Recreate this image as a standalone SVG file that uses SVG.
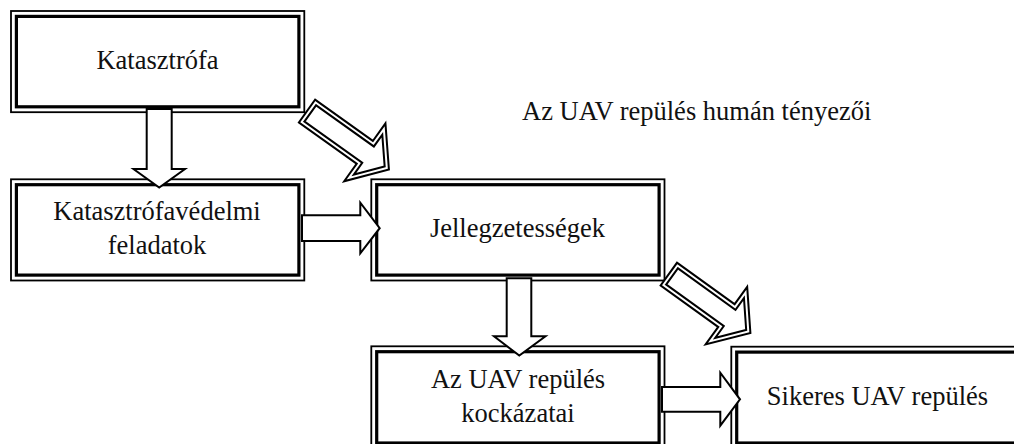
<svg xmlns="http://www.w3.org/2000/svg" width="1014" height="444" viewBox="0 0 1014 444">
<style>
.o{fill:#fff;stroke:#000;stroke-width:1.8}
.i{fill:none;stroke:#000;stroke-width:3.2}
.t{font-family:"Liberation Serif","Times New Roman",serif;font-size:26.5px;fill:#111;text-anchor:middle}
.a{fill:#fff;stroke:#000;stroke-width:2;stroke-linejoin:miter}
.d1{fill:#fff;stroke:#000;stroke-width:6;stroke-linejoin:miter}
.d2{fill:none;stroke:#fff;stroke-width:2;stroke-linejoin:miter}
</style>
<defs>
<path id="diag" d="M3,-12 L74,-12 L74,-30 L99,0 L74,30 L74,12 L3,12 Z"/>
</defs>
<rect width="1014" height="444" fill="#fff"/>
<g id="katasztrofa">
<rect class="o" x="11" y="11" width="293.3" height="101.2"/>
<rect class="i" x="16.4" y="16.4" width="282.5" height="90.4"/>
<text class="t" x="157.5" y="69">Katasztrófa</text>
</g>
<g id="feladatok">
<rect class="o" x="11" y="179.3" width="293.3" height="101.2"/>
<rect class="i" x="16.4" y="184.7" width="282.5" height="90.4"/>
<text class="t" x="157" y="220">Katasztrófavédelmi</text>
<text class="t" x="157" y="254">feladatok</text>
</g>
<g id="jellegzetessegek">
<rect class="o" x="371.3" y="179.3" width="293.2" height="101.2"/>
<rect class="i" x="376.7" y="184.7" width="282.4" height="90.4"/>
<text class="t" x="517.5" y="237">Jellegzetességek</text>
</g>
<g id="kockazatai">
<rect class="o" x="371.3" y="346.3" width="293.2" height="103"/>
<rect class="i" x="376.7" y="351.7" width="282.4" height="91.3"/>
<text class="t" x="518" y="388">Az UAV repülés</text>
<text class="t" x="518" y="422">kockázatai</text>
</g>
<g id="sikeres">
<rect class="o" x="731.3" y="346.7" width="300" height="103"/>
<rect class="i" x="736.7" y="352.1" width="290" height="90.9"/>
<text class="t" x="877.5" y="405">Sikeres UAV repülés</text>
</g>
<g id="cim">
<text class="t" x="522" y="119.5" style="text-anchor:start">Az UAV repülés humán tényezői</text>
</g>
<g id="connectors">
<path class="a" d="M146.7,109 L146.7,169 L133.5,169 L159.2,187.5 L185,169 L171.7,169 L171.7,109 Z"/>
<path class="a" d="M506.7,278.3 L506.7,336.3 L494,336.3 L519.3,355.5 L545.5,336.3 L531.3,336.3 L531.3,278.3 Z"/>
<path class="a" d="M302,215.3 L360.3,215.3 L360.3,202.7 L379.7,228.2 L360.3,253.3 L360.3,241 L302,241 Z"/>
<path class="a" d="M662,387 L720.3,387 L720.3,372.7 L740,399.3 L720.3,425.7 L720.3,411.7 L662,411.7 Z"/>
<g transform="translate(306.2,110.5) rotate(35.5)">
<use href="#diag" class="d1"/>
<use href="#diag" class="d2"/>
</g>
<g transform="translate(668,273.5) rotate(35.8)">
<use href="#diag" class="d1"/>
<use href="#diag" class="d2"/>
</g>
</g>
</svg>
